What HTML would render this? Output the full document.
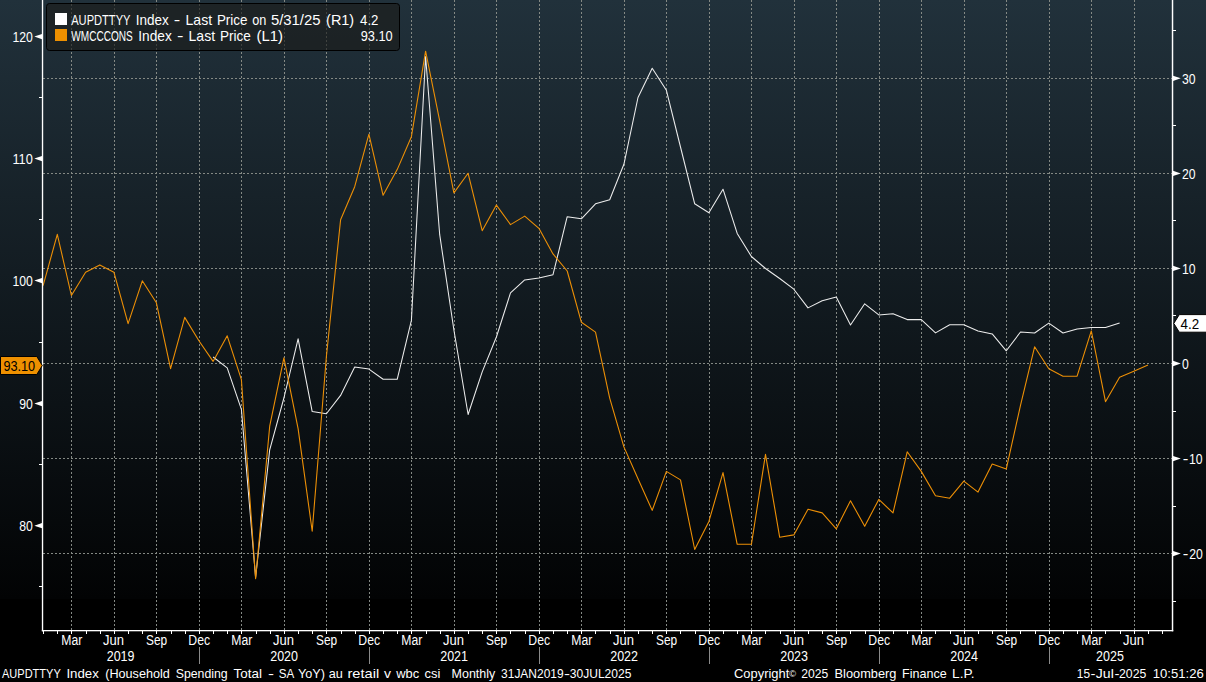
<!DOCTYPE html>
<html><head><meta charset="utf-8"><title>Chart</title>
<style>html,body{margin:0;padding:0;background:#000;overflow:hidden}svg{display:block}text{font-family:"Liberation Sans",sans-serif;font-size:14px;fill:#fff}</style>
</head><body>
<svg width="1206" height="682" viewBox="0 0 1206 682">
<defs><linearGradient id="bg" x1="0" y1="0" x2="0" y2="1"><stop offset="0" stop-color="#21313b"/><stop offset="1" stop-color="#020304"/></linearGradient></defs>
<rect x="0" y="0" width="1206" height="682" fill="#000"/>
<rect x="0" y="0" width="1206" height="599" fill="url(#bg)"/>
<path d="M71.5 0V630 M114.5 0V630 M156.5 0V630 M199.5 0V630 M241.5 0V630 M284.5 0V630 M326.5 0V630 M369.5 0V630 M411.5 0V630 M454.5 0V630 M496.5 0V630 M539.5 0V630 M581.5 0V630 M624.5 0V630 M666.5 0V630 M709.5 0V630 M751.5 0V630 M794.5 0V630 M836.5 0V630 M879.5 0V630 M921.5 0V630 M964.5 0V630 M1006.5 0V630 M1049.5 0V630 M1091.5 0V630 M1134.5 0V630" stroke="#848984" stroke-width="1" stroke-dasharray="2 2" fill="none" shape-rendering="crispEdges"/>
<path d="M43 78.5H1172 M43 173.5H1172 M43 268.5H1172 M43 363.5H1172 M43 458.5H1172 M43 553.5H1172" stroke="#848984" stroke-width="1" stroke-dasharray="2 2" fill="none" shape-rendering="crispEdges"/>
<path d="M213.1 357.0 L227.2 367.9 L241.4 409.3 L255.6 577.5 L269.7 449.8 L283.9 398.0 L298.1 338.8 L312.2 411.6 L326.4 413.8 L340.6 395.4 L354.7 367.1 L368.9 369.1 L383.1 379.3 L397.2 379.3 L411.4 320.4 L425.6 56.5 L439.7 234.7 L453.9 330.0 L468.1 414.5 L482.2 371.9 L496.4 337.0 L510.5 292.9 L524.7 279.9 L538.9 278.1 L553.0 274.7 L567.2 216.7 L581.4 218.8 L595.5 203.8 L609.7 199.7 L623.9 164.3 L638.0 97.5 L652.2 68.3 L666.4 90.3 L680.5 147.0 L694.7 203.8 L708.9 212.8 L723.0 189.2 L737.2 233.4 L751.4 256.5 L765.5 268.5 L779.7 278.5 L793.8 289.2 L808.0 307.9 L822.2 300.7 L836.3 297.0 L850.5 325.0 L864.7 303.8 L878.8 314.9 L893.0 313.8 L907.2 319.6 L921.3 319.6 L935.5 332.9 L949.7 324.7 L963.8 324.7 L978.0 330.9 L992.2 333.9 L1006.3 350.8 L1020.5 332.0 L1034.6 333.0 L1048.8 323.1 L1063.0 333.0 L1077.1 328.9 L1091.3 327.4 L1105.5 327.4 L1119.6 322.9" stroke="#ededed" stroke-width="1.05" fill="none" stroke-linejoin="round"/>
<path d="M43.1 285.7 L57.3 234.4 L71.4 295.5 L85.6 272.2 L99.8 264.9 L113.9 272.2 L128.1 323.6 L142.3 280.8 L156.4 302.8 L170.6 368.7 L184.7 317.4 L198.9 340.7 L213.1 361.4 L227.2 335.8 L241.4 379.7 L255.6 578.8 L269.7 426.2 L283.9 357.8 L298.1 428.6 L312.2 531.2 L326.4 356.5 L340.6 219.7 L354.7 186.7 L368.9 134.2 L383.1 195.3 L397.2 169.6 L411.4 136.7 L425.6 51.2 L439.7 120.8 L453.9 192.9 L468.1 173.3 L482.2 230.7 L496.4 205.1 L510.5 224.6 L524.7 216.1 L538.9 228.3 L553.0 253.9 L567.2 271.0 L581.4 322.3 L595.5 332.1 L609.7 398.1 L623.9 446.9 L638.0 478.7 L652.2 510.4 L666.4 471.4 L680.5 479.9 L694.7 549.5 L708.9 521.4 L723.0 472.6 L737.2 544.3 L751.4 544.3 L765.5 454.3 L779.7 537.3 L793.8 534.9 L808.0 509.2 L822.2 512.9 L836.3 528.8 L850.5 500.7 L864.7 526.3 L878.8 499.4 L893.0 512.9 L907.2 451.8 L921.3 471.4 L935.5 495.8 L949.7 498.2 L963.8 481.1 L978.0 492.1 L992.2 464.0 L1006.3 468.9 L1020.5 405.4 L1034.6 346.8 L1048.8 368.7 L1063.0 376.3 L1077.1 376.1 L1091.3 330.9 L1105.5 401.7 L1119.6 377.3 L1133.8 371.2 L1148.0 365.1" stroke="#ec8f06" stroke-width="1.1" fill="none" stroke-linejoin="round"/>
<rect x="41.85" y="0" width="1.35" height="631.3" fill="#fff"/>
<rect x="1171.8" y="0" width="1.45" height="631.3" fill="#fff"/>
<rect x="41.85" y="630" width="1131.4" height="1.3" fill="#fff"/>
<path d="M43.5 631V634 M57.5 631V634 M71.5 631V634 M86.5 631V634 M100.5 631V634 M114.5 631V634 M128.5 631V634 M142.5 631V634 M156.5 631V634 M171.5 631V634 M185.5 631V634 M199.5 631V634 M213.5 631V634 M227.5 631V634 M241.5 631V634 M256.5 631V634 M270.5 631V634 M284.5 631V634 M298.5 631V634 M312.5 631V634 M326.5 631V634 M341.5 631V634 M355.5 631V634 M369.5 631V634 M383.5 631V634 M397.5 631V634 M411.5 631V634 M426.5 631V634 M440.5 631V634 M454.5 631V634 M468.5 631V634 M482.5 631V634 M496.5 631V634 M510.5 631V634 M525.5 631V634 M539.5 631V634 M553.5 631V634 M567.5 631V634 M581.5 631V634 M595.5 631V634 M610.5 631V634 M624.5 631V634 M638.5 631V634 M652.5 631V634 M666.5 631V634 M680.5 631V634 M695.5 631V634 M709.5 631V634 M723.5 631V634 M737.5 631V634 M751.5 631V634 M765.5 631V634 M780.5 631V634 M794.5 631V634 M808.5 631V634 M822.5 631V634 M836.5 631V634 M850.5 631V634 M865.5 631V634 M879.5 631V634 M893.5 631V634 M907.5 631V634 M921.5 631V634 M935.5 631V634 M950.5 631V634 M964.5 631V634 M978.5 631V634 M992.5 631V634 M1006.5 631V634 M1020.5 631V634 M1035.5 631V634 M1049.5 631V634 M1063.5 631V634 M1077.5 631V634 M1091.5 631V634 M1105.5 631V634 M1120.5 631V634 M1134.5 631V634 M1148.5 631V634 M1162.5 631V634" stroke="#fff" stroke-width="1" fill="none" shape-rendering="crispEdges"/>
<path d="M39 97.5H42 M39 219.5H42 M39 342.5H42 M39 464.5H42 M39 586.5H42 M1173 30.5H1176 M1173 125.5H1176 M1173 220.5H1176 M1173 315.5H1176 M1173 411.5H1176 M1173 506.5H1176 M1173 601.5H1176" stroke="#fff" stroke-width="1" fill="none" shape-rendering="crispEdges"/>
<path d="M42 33.95L34.3 36.60L42 39.25Z M42 155.95L34.3 158.60L42 161.25Z M42 277.90L34.3 280.55L42 283.20Z M42 400.95L34.3 403.60L42 406.25Z M42 523.05L34.3 525.70L42 528.35Z M1173 75.70L1180.8 78.35L1173 81.00Z M1173 170.75L1180.8 173.40L1173 176.05Z M1173 265.80L1180.8 268.45L1173 271.10Z M1173 360.85L1180.8 363.50L1173 366.15Z M1173 455.90L1180.8 458.55L1173 461.20Z M1173 550.95L1180.8 553.60L1173 556.25Z" fill="#fff"/>
<text x="12.399999999999999" y="42.0" textLength="20.4" lengthAdjust="spacingAndGlyphs">120</text>
<text x="12.399999999999999" y="164.0" textLength="20.4" lengthAdjust="spacingAndGlyphs">110</text>
<text x="12.399999999999999" y="286.0" textLength="20.4" lengthAdjust="spacingAndGlyphs">100</text>
<text x="19.199999999999996" y="409.0" textLength="13.6" lengthAdjust="spacingAndGlyphs">90</text>
<text x="19.199999999999996" y="531.0" textLength="13.6" lengthAdjust="spacingAndGlyphs">80</text>
<text x="1182" y="83.5" textLength="13.6" lengthAdjust="spacingAndGlyphs">30</text>
<text x="1182" y="178.5" textLength="13.6" lengthAdjust="spacingAndGlyphs">20</text>
<text x="1182" y="273.5" textLength="13.6" lengthAdjust="spacingAndGlyphs">10</text>
<text x="1182" y="368.5" textLength="6.8" lengthAdjust="spacingAndGlyphs">0</text>
<text x="1182.7" y="463.5" textLength="5.6" lengthAdjust="spacingAndGlyphs">-</text>
<text x="1189.0" y="463.5" textLength="13.6" lengthAdjust="spacingAndGlyphs">10</text>
<text x="1182.7" y="558.5" textLength="5.6" lengthAdjust="spacingAndGlyphs">-</text>
<text x="1189.2" y="558.5" textLength="13.6" lengthAdjust="spacingAndGlyphs">20</text>
<rect x="46.5" y="3.5" width="353" height="47" rx="3" ry="3" fill="#1b1d1c" fill-opacity="0.66" stroke="#000" stroke-width="1"/>
<rect x="55" y="13" width="12" height="12" fill="#fff"/>
<rect x="55" y="29" width="12" height="12" fill="#ee9000"/>
<text x="71.2" y="25" textLength="59.3" lengthAdjust="spacingAndGlyphs" style="font-size:14.5px;">AUPDTTYY</text>
<text x="135.7" y="25" textLength="33.0" lengthAdjust="spacingAndGlyphs" style="font-size:14.5px;">Index</text>
<text x="173.7" y="25" textLength="6.5" lengthAdjust="spacingAndGlyphs" style="font-size:14.5px;">-</text>
<text x="185.5" y="25" textLength="26.6" lengthAdjust="spacingAndGlyphs" style="font-size:14.5px;">Last</text>
<text x="216.9" y="25" textLength="30.6" lengthAdjust="spacingAndGlyphs" style="font-size:14.5px;">Price</text>
<text x="252.3" y="25" textLength="14.1" lengthAdjust="spacingAndGlyphs" style="font-size:14.5px;">on</text>
<text x="270.9" y="25" textLength="49.6" lengthAdjust="spacingAndGlyphs" style="font-size:14.5px;">5/31/25</text>
<text x="326.1" y="25" textLength="28.1" lengthAdjust="spacingAndGlyphs" style="font-size:14.5px;">(R1)</text>
<text x="360.1" y="25" textLength="18.4" lengthAdjust="spacingAndGlyphs" style="font-size:14.5px;">4.2</text>
<text x="71.3" y="41" textLength="61.5" lengthAdjust="spacingAndGlyphs" style="font-size:14.5px;">WMCCCONS</text>
<text x="138.3" y="41" textLength="33.5" lengthAdjust="spacingAndGlyphs" style="font-size:14.5px;">Index</text>
<text x="176.9" y="41" textLength="6.5" lengthAdjust="spacingAndGlyphs" style="font-size:14.5px;">-</text>
<text x="188.5" y="41" textLength="26.6" lengthAdjust="spacingAndGlyphs" style="font-size:14.5px;">Last</text>
<text x="219.9" y="41" textLength="30.9" lengthAdjust="spacingAndGlyphs" style="font-size:14.5px;">Price</text>
<text x="256.5" y="41" textLength="26.5" lengthAdjust="spacingAndGlyphs" style="font-size:14.5px;">(L1)</text>
<text x="360.7" y="41" textLength="32.0" lengthAdjust="spacingAndGlyphs" style="font-size:14.5px;">93.10</text>
<text x="61.3" y="645" textLength="21.0" lengthAdjust="spacingAndGlyphs">Mar</text>
<text x="103.1" y="645" textLength="21.0" lengthAdjust="spacingAndGlyphs">Jun</text>
<text x="146.0" y="645" textLength="21.1" lengthAdjust="spacingAndGlyphs">Sep</text>
<text x="188.3" y="645" textLength="21.8" lengthAdjust="spacingAndGlyphs">Dec</text>
<text x="231.3" y="645" textLength="21.0" lengthAdjust="spacingAndGlyphs">Mar</text>
<text x="273.1" y="645" textLength="21.0" lengthAdjust="spacingAndGlyphs">Jun</text>
<text x="316.0" y="645" textLength="21.1" lengthAdjust="spacingAndGlyphs">Sep</text>
<text x="358.3" y="645" textLength="21.8" lengthAdjust="spacingAndGlyphs">Dec</text>
<text x="401.3" y="645" textLength="21.0" lengthAdjust="spacingAndGlyphs">Mar</text>
<text x="443.1" y="645" textLength="21.0" lengthAdjust="spacingAndGlyphs">Jun</text>
<text x="486.0" y="645" textLength="21.1" lengthAdjust="spacingAndGlyphs">Sep</text>
<text x="528.3" y="645" textLength="21.8" lengthAdjust="spacingAndGlyphs">Dec</text>
<text x="571.3" y="645" textLength="21.0" lengthAdjust="spacingAndGlyphs">Mar</text>
<text x="613.1" y="645" textLength="21.0" lengthAdjust="spacingAndGlyphs">Jun</text>
<text x="656.0" y="645" textLength="21.1" lengthAdjust="spacingAndGlyphs">Sep</text>
<text x="698.3" y="645" textLength="21.8" lengthAdjust="spacingAndGlyphs">Dec</text>
<text x="741.3" y="645" textLength="21.0" lengthAdjust="spacingAndGlyphs">Mar</text>
<text x="783.1" y="645" textLength="21.0" lengthAdjust="spacingAndGlyphs">Jun</text>
<text x="826.0" y="645" textLength="21.1" lengthAdjust="spacingAndGlyphs">Sep</text>
<text x="868.3" y="645" textLength="21.8" lengthAdjust="spacingAndGlyphs">Dec</text>
<text x="911.3" y="645" textLength="21.0" lengthAdjust="spacingAndGlyphs">Mar</text>
<text x="953.1" y="645" textLength="21.0" lengthAdjust="spacingAndGlyphs">Jun</text>
<text x="996.0" y="645" textLength="21.1" lengthAdjust="spacingAndGlyphs">Sep</text>
<text x="1038.3" y="645" textLength="21.8" lengthAdjust="spacingAndGlyphs">Dec</text>
<text x="1081.3" y="645" textLength="21.0" lengthAdjust="spacingAndGlyphs">Mar</text>
<text x="1123.1" y="645" textLength="21.0" lengthAdjust="spacingAndGlyphs">Jun</text>
<text x="106.7" y="661" textLength="27.8" lengthAdjust="spacingAndGlyphs">2019</text>
<text x="270.2" y="661" textLength="27.8" lengthAdjust="spacingAndGlyphs">2020</text>
<text x="440.2" y="661" textLength="27.8" lengthAdjust="spacingAndGlyphs">2021</text>
<text x="610.2" y="661" textLength="27.8" lengthAdjust="spacingAndGlyphs">2022</text>
<text x="780.2" y="661" textLength="27.8" lengthAdjust="spacingAndGlyphs">2023</text>
<text x="950.2" y="661" textLength="27.8" lengthAdjust="spacingAndGlyphs">2024</text>
<text x="1096.1" y="661" textLength="27.8" lengthAdjust="spacingAndGlyphs">2025</text>
<path d="M199.5 647V664 M369.5 647V664 M539.5 647V664 M709.5 647V664 M879.5 647V664 M1049.5 647V664" stroke="#8a8a8a" stroke-width="1" fill="none" shape-rendering="crispEdges"/>
<text x="2.0" y="678" textLength="58.8" lengthAdjust="spacingAndGlyphs" style="font-size:12.6px;">AUPDTTYY</text>
<text x="66.4" y="678" textLength="32.5" lengthAdjust="spacingAndGlyphs" style="font-size:12.6px;">Index</text>
<text x="105.2" y="678" textLength="64.7" lengthAdjust="spacingAndGlyphs" style="font-size:12.6px;">(Household</text>
<text x="175.7" y="678" textLength="52.0" lengthAdjust="spacingAndGlyphs" style="font-size:12.6px;">Spending</text>
<text x="233.6" y="678" textLength="28.4" lengthAdjust="spacingAndGlyphs" style="font-size:12.6px;">Total</text>
<text x="268.1" y="678" textLength="6.0" lengthAdjust="spacingAndGlyphs" style="font-size:12.6px;">-</text>
<text x="278.7" y="678" textLength="15.5" lengthAdjust="spacingAndGlyphs" style="font-size:12.6px;">SA</text>
<text x="298.0" y="678" textLength="27.0" lengthAdjust="spacingAndGlyphs" style="font-size:12.6px;">YoY)</text>
<text x="328.8" y="678" textLength="14.1" lengthAdjust="spacingAndGlyphs" style="font-size:12.6px;">au</text>
<text x="347.5" y="678" textLength="31.7" lengthAdjust="spacingAndGlyphs" style="font-size:12.6px;">retail</text>
<text x="384.0" y="678" textLength="7.0" lengthAdjust="spacingAndGlyphs" style="font-size:12.6px;">v</text>
<text x="396.3" y="678" textLength="22.9" lengthAdjust="spacingAndGlyphs" style="font-size:12.6px;">wbc</text>
<text x="424.5" y="678" textLength="15.8" lengthAdjust="spacingAndGlyphs" style="font-size:12.6px;">csi</text>
<text x="451.6" y="678" textLength="43.7" lengthAdjust="spacingAndGlyphs" style="font-size:12.6px;">Monthly</text>
<text x="501.1" y="678" textLength="62.5" lengthAdjust="spacingAndGlyphs" style="font-size:12.6px;">31JAN2019</text>
<text x="564.1" y="678" textLength="6.0" lengthAdjust="spacingAndGlyphs" style="font-size:12.6px;">-</text>
<text x="569.8" y="678" textLength="61.6" lengthAdjust="spacingAndGlyphs" style="font-size:12.6px;">30JUL2025</text>
<text x="734.0" y="678" textLength="55.3" lengthAdjust="spacingAndGlyphs" style="font-size:12.6px;">Copyright</text>
<text x="801.2" y="678" textLength="27.0" lengthAdjust="spacingAndGlyphs" style="font-size:12.6px;">2025</text>
<text x="834.6" y="678" textLength="61.8" lengthAdjust="spacingAndGlyphs" style="font-size:12.6px;">Bloomberg</text>
<text x="902.0" y="678" textLength="44.7" lengthAdjust="spacingAndGlyphs" style="font-size:12.6px;">Finance</text>
<text x="952.1" y="678" textLength="22.5" lengthAdjust="spacingAndGlyphs" style="font-size:12.6px;">L.P.</text>
<text x="789.3" y="677" textLength="6.8" lengthAdjust="spacingAndGlyphs" style="font-size:9px;">©</text>
<text x="1076.8" y="678" textLength="13.2" lengthAdjust="spacingAndGlyphs" style="font-size:12.6px;">15</text>
<text x="1090.6" y="678" textLength="5.0" lengthAdjust="spacingAndGlyphs" style="font-size:12.6px;">-</text>
<text x="1095.8" y="678" textLength="18.0" lengthAdjust="spacingAndGlyphs" style="font-size:12.6px;">Jul</text>
<text x="1114.4" y="678" textLength="5.0" lengthAdjust="spacingAndGlyphs" style="font-size:12.6px;">-</text>
<text x="1119.0" y="678" textLength="27.3" lengthAdjust="spacingAndGlyphs" style="font-size:12.6px;">2025</text>
<text x="1152.8" y="678" textLength="51.0" lengthAdjust="spacingAndGlyphs" style="font-size:12.6px;">10:51:26</text>
<path d="M0.5 356.5H36.8L42.3 365.5L36.8 374.5H0.5Z" fill="#ee9000" stroke="#000" stroke-width="1"/>
<text x="3.4" y="371" textLength="31.8" lengthAdjust="spacingAndGlyphs" style="fill:#000;">93.10</text>
<path d="M1207 314.6H1179.3L1173.8 323.4L1179.3 332.2H1207Z" fill="#fff" stroke="#000" stroke-width="1"/>
<text x="1180.6" y="329" textLength="18.6" lengthAdjust="spacingAndGlyphs" style="fill:#000;">4.2</text>
</svg></body></html>
